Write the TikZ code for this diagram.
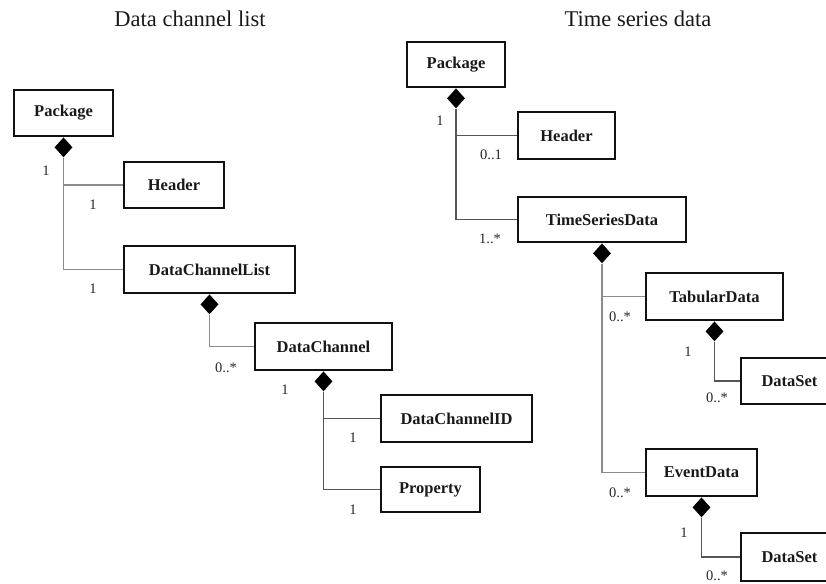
\documentclass[tikz,border=0pt]{standalone}
\usepackage{fontspec}
\setmainfont{Liberation Serif}
\usetikzlibrary{shapes.geometric}
\definecolor{boxline}{HTML}{111111}
\definecolor{linkL}{HTML}{8C8C8C}
\definecolor{linkR}{HTML}{555555}
\tikzset{
  cls/.style={draw=boxline, line width=2.3pt, inner sep=0pt, text=black!90,
    font=\fontsize{16.5}{18}\selectfont\bfseries},
  comp/.style={diamond, fill=black, draw=none, inner sep=0pt,
    minimum width=18pt, minimum height=20pt, anchor=north},
  mult/.style={inner sep=0pt, text=black!85, font=\fontsize{14.5}{16}\selectfont},
  ttl/.style={inner sep=0pt, text=black!90, font=\fontsize{22.5}{25}\selectfont},
  linkl/.style={draw=linkL, line width=1.5pt},
  linkr/.style={draw=linkR, line width=1.5pt},
}
\begin{document}
\begin{tikzpicture}[x=1pt, y=-1pt]
\useasboundingbox (0,0) rectangle (826,583);

% titles
\node[ttl] (tl) at (190,19) {Data channel list};
\node[ttl] (tr) at (638,19) {Time series data};

% ---- data channel list ----
\node[cls, minimum width=99pt, minimum height=46pt] (pkgL) at (63.5,113) {Package};
\node[cls, minimum width=100pt, minimum height=46pt] (hdrL) at (174,185) {Header};
\node[cls, minimum width=171pt, minimum height=47pt] (dcl) at (209.5,269.5) {DataChannelList};
\node[cls, minimum width=137pt, minimum height=47pt] (dc) at (323.5,346.5) {DataChannel};
\node[cls, minimum width=151pt, minimum height=47pt] (dcid) at (456.5,418.5) {DataChannelID};
\node[cls, minimum width=99pt, minimum height=45pt] (prop) at (430.5,489.5) {Property};

\node[comp] (dpkgL) at (pkgL.south) {};
\node[comp] (ddcl) at (dcl.south) {};
\node[comp] (ddc) at (dc.south) {};

\draw[linkl] (dpkgL.south) |- (hdrL.west);
\draw[linkl] (dpkgL.south) |- (dcl.west);
\draw[linkl] (ddcl.south) |- (dc.west);
\draw[linkr] (ddc.south) |- (dcid.west);
\draw[linkr] (ddc.south) |- (prop.west);

\node[mult] (m1) at (46,171) {1};
\node[mult] (m2) at (93,205) {1};
\node[mult] (m3) at (93,289) {1};
\node[mult] (m4) at (226,368) {0..*};
\node[mult] (m5) at (285,390) {1};
\node[mult] (m6) at (353,438) {1};
\node[mult] (m7) at (353,510) {1};

% ---- time series data ----
\node[cls, minimum width=98pt, minimum height=45pt] (pkgR) at (456,64.5) {Package};
\node[cls, minimum width=97pt, minimum height=47pt] (hdrR) at (566.5,135.5) {Header};
\node[cls, minimum width=168pt, minimum height=45pt] (tsd) at (602,219.5) {TimeSeriesData};
\node[cls, minimum width=137pt, minimum height=47pt] (tab) at (714.5,296.5) {TabularData};
\node[cls, minimum width=97pt, minimum height=46pt] (ds1) at (789.5,381) {DataSet};
\node[cls, minimum width=111pt, minimum height=47pt] (ev) at (701.5,472.5) {EventData};
\node[cls, minimum width=97pt, minimum height=48pt] (ds2) at (789.5,557) {DataSet};

\node[comp] (dpkgR) at (pkgR.south) {};
\node[comp] (dtsd) at (tsd.south) {};
\node[comp] (dtab) at (tab.south) {};
\node[comp] (dev) at (ev.south) {};

\draw[linkr] (dpkgR.south) |- (hdrR.west);
\draw[linkr] (dpkgR.south) |- (tsd.west);
\draw[linkl] (dtsd.south) |- (tab.west);
\draw[linkl] (dtsd.south) |- (ev.west);
\draw[linkr] (dtab.south) |- (ds1.west);
\draw[linkr] (dev.south) |- (ds2.west);

\node[mult] (n1) at (440,121) {1};
\node[mult] (n2) at (491,155) {0..1};
\node[mult] (n3) at (490,239) {1..*};
\node[mult] (n4) at (620,317) {0..*};
\node[mult] (n5) at (688,352) {1};
\node[mult] (n6) at (717,398) {0..*};
\node[mult] (n7) at (620,493) {0..*};
\node[mult] (n8) at (684,533) {1};
\node[mult] (n9) at (717,576) {0..*};
\end{tikzpicture}
\end{document}
